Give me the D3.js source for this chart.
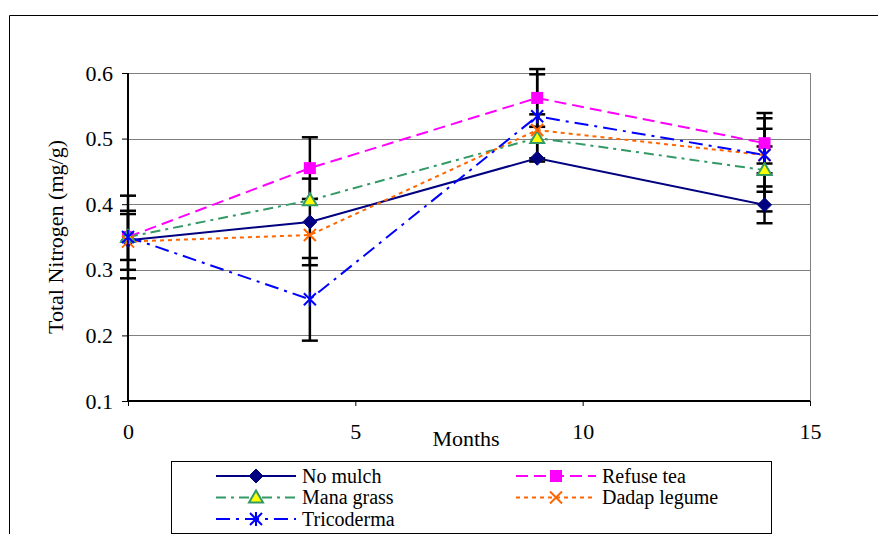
<!DOCTYPE html>
<html><head><meta charset="utf-8">
<script src="https://cdn.jsdelivr.net/npm/d3@7"></script>
<style>body{margin:0;background:#fff}svg{display:block}</style>
</head><body><svg id="c" width="878" height="534"></svg>
<script>
const months = [0, 4, 9, 14];
const seriesNames = ["No mulch", "Refuse tea", "Mana grass", "Dadap legume", "Tricoderma"];
const noMulch = [0.345, 0.373, 0.470, 0.399];
const refuseTea = [0.350, 0.455, 0.562, 0.493];
const manaGrass = [0.350, 0.406, 0.501, 0.452];
const dadapLegume = [0.343, 0.353, 0.513, 0.475];
const tricoderma = [0.350, 0.255, 0.534, 0.475];
const errNoMulch = [0.045, 0.066, 0, 0.028];
const errRefuseTea = [0.035, 0.047, 0.044, 0.046];
const errManaGrass = [0, 0, 0.036, 0.063];
const errDadap = [0, 0, 0, 0.013];
const errTricoderma = [0.063, 0.063, 0.064, 0.056];
const yTicks = [0.1, 0.2, 0.3, 0.4, 0.5, 0.6];
const xTicks = [0, 5, 10, 15];

const FONT = "'Liberation Serif', 'Times New Roman', serif";
const styles = [
  {color:"#000080", dash:null, marker:"diamond"},
  {color:"#FF00FF", dash:"12,6", marker:"square"},
  {color:"#339966", dash:"10,5,3,5", marker:"triangle"},
  {color:"#FF6600", dash:"4,4", marker:"x"},
  {color:"#0000FF", dash:"14,6,3,6", marker:"star"}
];
const vals = [noMulch, refuseTea, manaGrass, dadapLegume, tricoderma];
const errs = [errNoMulch, errRefuseTea, errManaGrass, errDadap, errTricoderma];
const series = seriesNames.map((n,i)=>({name:n, values:vals[i], err:errs[i], ...styles[i]}));

const svg = d3.select("#c");
const x = d3.scaleLinear().domain([0,15]).range([128,810]);
const y = d3.scaleLinear().domain([0.1,0.6]).range([401,73]);

// outer frame
svg.append("path").attr("d","M9.5,534 L9.5,15.5 L878,15.5").attr("fill","none").attr("stroke","#000").attr("stroke-width",1);

// grid
svg.append("g").selectAll("line").data(yTicks.filter(d=>d>0.1)).join("line")
  .attr("x1",x(0)).attr("x2",x(15)).attr("y1",d=>Math.round(y(d))+0.5).attr("y2",d=>Math.round(y(d))+0.5)
  .attr("stroke","#808080").attr("stroke-width",1);
svg.append("line").attr("x1",x(15)+0.5).attr("x2",x(15)+0.5).attr("y1",y(0.6)).attr("y2",y(0.1)).attr("stroke","#808080");

// axes
const yAxis = d3.axisLeft(y).tickValues(yTicks).tickFormat(d3.format(".1f")).tickSize(6).tickPadding(9);
const gy = svg.append("g").attr("transform",`translate(${x(0)},0)`).call(yAxis);
const xAxis = d3.axisBottom(x).tickValues(xTicks).tickFormat(d3.format("d")).tickSize(5).tickPadding(17);
const gx = svg.append("g").attr("transform",`translate(0,${y(0.1)})`).call(xAxis);
[gy,gx].forEach(g=>{
  g.attr("font-family",null).attr("font-size",null);
  g.select(".domain").attr("stroke","#000").attr("stroke-width",2);
  g.selectAll(".tick line").attr("stroke","#000");
  g.selectAll("text").style("font-size","22px").style("font-family",FONT).attr("fill","#000");});
gx.select(".domain").attr("d",`M${x(0)},0H${x(15)}`);
gy.select(".domain").attr("d",`M0,${y(0.6)}V${y(0.1)}`);

// axis titles
svg.append("text").attr("x",466).attr("y",446).attr("text-anchor","middle").style("font-size","22px").style("font-family",FONT).text("Months");
svg.append("text").attr("transform",`translate(63,${(y(0.6)+y(0.1))/2}) rotate(-90)`).attr("text-anchor","middle").style("font-size","22px").style("font-family",FONT).text("Total Nitrogen (mg/g)");

// lines
const line = d3.line().x((d,i)=>x(months[i])).y(d=>y(d));
svg.append("g").selectAll("path").data(series).join("path")
  .attr("d",d=>line(d.values)).attr("fill","none").attr("stroke",d=>d.color)
  .attr("stroke-width",2).attr("stroke-dasharray",d=>d.dash);

// error bars
const eb = svg.append("g");
series.forEach(s=>{
  s.values.forEach((v,i)=>{
    const e = s.err[i]; if(!e) return;
    const cx = x(months[i]);
    eb.append("line").attr("x1",cx).attr("x2",cx).attr("y1",y(v+e)).attr("y2",y(v-e)).attr("stroke","#000").attr("stroke-width",2.5);
    [v+e, v-e].forEach(t=>eb.append("line").attr("x1",cx-8).attr("x2",cx+8).attr("y1",y(t)).attr("y2",y(t)).attr("stroke","#000").attr("stroke-width",2.5));
  });
});

function drawMarker(g, type, color, cx, cy){
  if(type==="diamond"){
    g.append("path").attr("d",`M${cx},${cy-7}L${cx+7},${cy}L${cx},${cy+7}L${cx-7},${cy}Z`).attr("fill",color).attr("stroke",color);
  } else if(type==="square"){
    g.append("rect").attr("x",cx-6).attr("y",cy-6).attr("width",12).attr("height",12).attr("fill",color);
  } else if(type==="triangle"){
    g.append("path").attr("d",`M${cx},${cy-7}L${cx+7},${cy+5}L${cx-7},${cy+5}Z`).attr("fill","#FFFF00").attr("stroke",color).attr("stroke-width",2);
  } else if(type==="x"){
    g.append("path").attr("d",`M${cx-6},${cy-6}L${cx+6},${cy+6}M${cx-6},${cy+6}L${cx+6},${cy-6}`).attr("stroke",color).attr("stroke-width",2).attr("fill","none");
  } else if(type==="star"){
    g.append("path").attr("d",`M${cx},${cy-7}L${cx},${cy+7}M${cx-6},${cy-6}L${cx+6},${cy+6}M${cx-6},${cy+6}L${cx+6},${cy-6}`).attr("stroke",color).attr("stroke-width",2).attr("fill","none");
  }
}
const mg = svg.append("g");
series.forEach(s=>s.values.forEach((v,i)=>drawMarker(mg,s.marker,s.color,x(months[i]),y(v))));

// legend
const lg = svg.append("g");
lg.append("rect").attr("x",171.5).attr("y",461.5).attr("width",600).attr("height",72).attr("fill","#fff").attr("stroke","#000");
const pos = [[216,476],[516,476],[216,497.5],[516,497.5],[216,519]];
series.forEach((s,i)=>{
  const [lx,ly] = pos[i];
  lg.append("line").attr("x1",lx).attr("x2",lx+80).attr("y1",ly).attr("y2",ly).attr("stroke",s.color).attr("stroke-width",2).attr("stroke-dasharray",s.dash);
  drawMarker(lg,s.marker,s.color,lx+40,ly);
  lg.append("text").attr("x",lx+86).attr("y",ly).attr("dy","0.33em").style("font-size","20px").style("font-family",FONT).text(s.name);
});
</script></body></html>
